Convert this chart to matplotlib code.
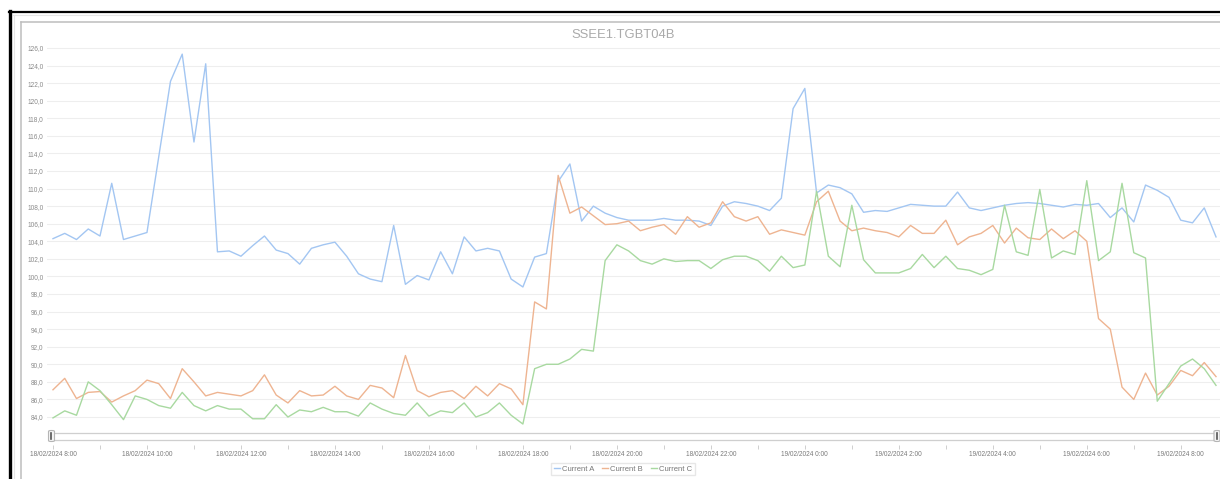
import pandas as pd
import matplotlib.pyplot as plt
import matplotlib.dates as mdates
from matplotlib.lines import Line2D
from matplotlib.patches import FancyBboxPatch
from matplotlib.ticker import FuncFormatter, MultipleLocator

plt.rcParams["font.family"] = ["Liberation Sans", "DejaVu Sans"]

title = "SSEE1.TGBT04B"
start = "2024-02-18 08:00"

current_a = [104.3, 104.9, 104.2, 105.4, 104.6, 110.6, 104.2, 104.6, 105.0, 113.6,
             122.2, 125.3, 115.3, 124.2, 102.8, 102.9, 102.3, 103.5, 104.6, 103.0,
             102.6, 101.4, 103.2, 103.6, 103.9, 102.3, 100.3, 99.7, 99.4, 105.8,
             99.1, 100.1, 99.6, 102.8, 100.3, 104.5, 102.9, 103.2, 102.9, 99.7,
             98.8, 102.2, 102.6, 110.8, 112.8, 106.3, 108.0, 107.2, 106.7, 106.4,
             106.4, 106.4, 106.6, 106.4, 106.4, 106.3, 105.8, 108.0, 108.5, 108.3,
             108.0, 107.5, 108.9, 119.1, 121.4, 109.5, 110.4, 110.1, 109.4, 107.3,
             107.5, 107.4, 107.8, 108.2, 108.1, 108.0, 108.0, 109.6, 107.8, 107.5,
             107.8, 108.1, 108.3, 108.4, 108.3, 108.1, 107.9, 108.2, 108.1, 108.3,
             106.7, 107.8, 106.2, 110.4, 109.8, 109.0, 106.4, 106.1, 107.8, 104.5]

current_b = [87.1, 88.4, 86.1, 86.8, 86.9, 85.7, 86.4, 87.0, 88.2, 87.8,
             86.1, 89.5, 88.0, 86.4, 86.8, 86.6, 86.4, 87.0, 88.8, 86.5,
             85.6, 87.0, 86.4, 86.5, 87.5, 86.4, 86.0, 87.6, 87.3, 86.2,
             91.0, 87.0, 86.3, 86.8, 87.0, 86.1, 87.5, 86.4, 87.8, 87.2,
             85.4, 97.1, 96.3, 111.5, 107.2, 107.9, 106.9, 105.9, 106.0, 106.3,
             105.2, 105.6, 105.9, 104.8, 106.8, 105.6, 106.1, 108.5, 106.8, 106.3,
             106.8, 104.8, 105.3, 105.0, 104.7, 108.5, 109.7, 106.3, 105.2, 105.5,
             105.2, 105.0, 104.5, 105.8, 104.9, 104.9, 106.4, 103.6, 104.5, 104.9,
             105.8, 103.8, 105.5, 104.4, 104.2, 105.4, 104.3, 105.2, 104.0, 95.2,
             94.0, 87.4, 86.0, 89.0, 86.5, 87.5, 89.3, 88.7, 90.2, 88.6]

current_c = [83.9, 84.7, 84.2, 88.0, 87.0, 85.4, 83.7, 86.4, 86.0, 85.3,
             85.0, 86.8, 85.3, 84.7, 85.3, 84.9, 84.9, 83.8, 83.8, 85.4,
             84.0, 84.8, 84.6, 85.1, 84.6, 84.6, 84.1, 85.6, 84.9, 84.4,
             84.2, 85.6, 84.1, 84.7, 84.5, 85.6, 84.0, 84.5, 85.6, 84.2,
             83.2, 89.5, 90.0, 90.0, 90.6, 91.7, 91.5, 101.8, 103.6, 102.9,
             101.8, 101.4, 102.0, 101.7, 101.8, 101.8, 100.9, 101.9, 102.3, 102.3,
             101.8, 100.6, 102.3, 101.0, 101.3, 109.7, 102.3, 101.1, 108.1, 101.9,
             100.4, 100.4, 100.4, 100.9, 102.5, 101.0, 102.3, 100.9, 100.7, 100.2,
             100.8, 108.1, 102.8, 102.4, 109.9, 102.1, 102.9, 102.5, 110.9, 101.8,
             102.8, 110.6, 102.7, 102.1, 85.8, 87.8, 89.8, 90.6, 89.5, 87.6]

series = ["Current A", "Current B", "Current C"]
colors = ["#a3c6f2", "#eeb491", "#a8d9a0"]

times = pd.date_range(start, periods=len(current_a), freq="15min")
step = pd.Timedelta("15min")
x_left = times[0] - step * 0.51
x_right = times[-1] + step * 0.34

W, H = 1220, 479
fig = plt.figure(figsize=(W / 100, H / 100), dpi=100)


def fx(px):
    return px / W


def fy(py):
    return 1 - py / H


# screenshot frame
fig.add_artist(Line2D([fx(9), fx(W)], [fy(11.5), fy(11.5)], color="black", lw=1.6))
fig.add_artist(Line2D([fx(10), fx(10)], [fy(11), fy(H)], color="black", lw=2.4))
fig.add_artist(Line2D([fx(13), fx(W)], [fy(15), fy(15)], color="#e6e6e6", lw=0.8))
fig.add_artist(Line2D([fx(13.5), fx(13.5)], [fy(15), fy(H)], color="#e6e6e6", lw=0.8))
fig.add_artist(Line2D([fx(21), fx(W)], [fy(22), fy(22)], color="#bdbdbd", lw=1.1))
fig.add_artist(Line2D([fx(21), fx(21)], [fy(22), fy(H)], color="#bdbdbd", lw=1.1))

# main plot
ax = fig.add_axes([fx(47), fy(425), fx(W - 47), (425 - 45) / H])
for vals, name, c in zip([current_a, current_b, current_c], series, colors):
    ax.plot(times, vals, color=c, lw=1.0, label=name)

ax.set_xlim(x_left, x_right)
ax.set_ylim(83.09, 126.34)
ax.yaxis.set_major_locator(MultipleLocator(2))
ax.yaxis.set_major_formatter(FuncFormatter(lambda v, p: f"{v:.1f}".replace(".", ",")))
ax.grid(axis="y", color="#eeeeee", lw=0.8)
ax.set_axisbelow(True)
ax.tick_params(axis="y", length=0, pad=2.5, labelsize=4.7, labelcolor="#8a8a8a")
ax.set_xticks([])
for s in ax.spines.values():
    s.set_visible(False)

fig.text(fx(623), fy(35), title, ha="center", va="center", fontsize=9.4, color="#aaaaaa")

# range slider
sl = fig.add_axes([fx(50), fy(439.5), fx(W - 50), 6.5 / H])
sl.set_xlim(x_left, x_right)
sl.set_ylim(0, 1)
sl.set_xticks([])
sl.set_yticks([])
for k in ["top", "bottom"]:
    sl.spines[k].set_color("#cfcfcf")
    sl.spines[k].set_linewidth(0.9)
for k in ["left", "right"]:
    sl.spines[k].set_visible(False)
for hx in [fx(48.5), fx(1214)]:
    fig.add_artist(FancyBboxPatch((hx, fy(441.5)), 6 / W, 11 / H,
                                  boxstyle="round,pad=0,rounding_size=0.002",
                                  fc="#f4f4f4", ec="#b5b5b5", lw=0.8))
    fig.add_artist(Line2D([hx + 3 / W, hx + 3 / W], [fy(439), fy(433)], color="#555555", lw=1.2))

# time axis
tl = fig.add_axes([fx(47), fy(445), fx(W - 47), 0.0001])
tl.set_xlim(x_left, x_right)
tl.set_yticks([])
for k in ["top", "left", "right", "bottom"]:
    tl.spines[k].set_visible(False)
tl.xaxis.set_major_locator(mdates.HourLocator(byhour=range(0, 24, 2)))
tl.xaxis.set_minor_locator(mdates.HourLocator(byhour=range(1, 24, 2)))
tl.xaxis.set_major_formatter(FuncFormatter(
    lambda v, p: (lambda d: f"{d.day:02d}/{d.month:02d}/{d.year} {d.hour}:{d.minute:02d}")(mdates.num2date(v))))
tl.tick_params(axis="x", which="both", direction="out", length=2.6, width=0.6, color="#c8c8c8")
tl.tick_params(axis="x", which="major", pad=1.8, labelsize=4.7, labelcolor="#7a7a7a")

fig.legend(loc="center", bbox_to_anchor=(fx(623), fy(469)), ncol=3, fontsize=5.5,
           frameon=True, edgecolor="#e2e2e2", fancybox=False, handlelength=0.8,
           handletextpad=0.3, columnspacing=1.0, borderpad=0.35, labelcolor="#777777")

fig.savefig("out.png", dpi=100)
